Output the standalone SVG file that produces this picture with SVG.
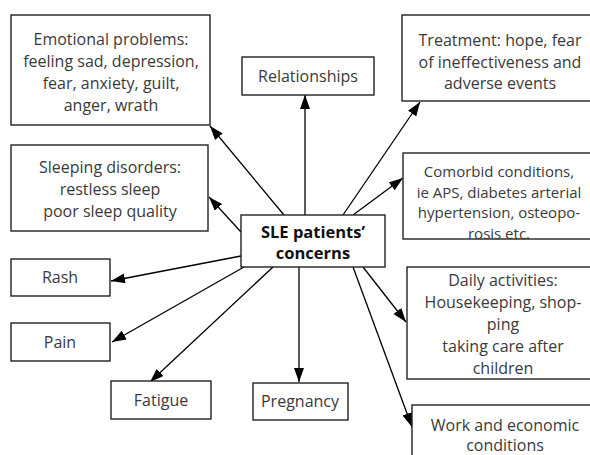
<svg xmlns="http://www.w3.org/2000/svg" width="590" height="455" viewBox="0 0 590 455">
<defs>
<style>
.box{fill:#fff;stroke:#222;stroke-width:1.4}
.t{font-family:"Open Sans","Liberation Sans",sans-serif;font-size:16px;fill:#3a3a3a;text-anchor:middle}
.s{font-size:15px}
.b{font-family:"Open Sans","Liberation Sans",sans-serif;font-size:16.5px;font-weight:bold;fill:#111;text-anchor:middle}
.c{stroke:#000;stroke-width:1.3;fill:none;marker-end:url(#ah)}
</style>
<marker id="ah" markerUnits="userSpaceOnUse" markerWidth="15" markerHeight="11" refX="14" refY="5" orient="auto">
<path d="M0,0 L14,5 L0,10 Z" fill="#000"/>
</marker>
</defs>
<rect width="590" height="455" fill="#fff"/>
<g id="connectors">
<line class="c" x1="284" y1="215" x2="210" y2="126"/>
<line class="c" x1="241" y1="232" x2="209" y2="197"/>
<line class="c" x1="241" y1="256" x2="111" y2="281"/>
<line class="c" x1="244" y1="267" x2="112" y2="342"/>
<line class="c" x1="273" y1="267" x2="150" y2="382"/>
<line class="c" x1="299" y1="267" x2="299" y2="382"/>
<line class="c" x1="353" y1="267" x2="412" y2="427"/>
<line class="c" x1="363" y1="267" x2="406" y2="322"/>
<line class="c" x1="353" y1="215" x2="403" y2="178"/>
<line class="c" x1="343" y1="215" x2="420" y2="102"/>
<line class="c" x1="305" y1="215" x2="305" y2="95"/>
</g>
<g id="sle">
<rect class="box" x="241" y="215" width="144" height="52"/>
<text class="b" x="313" y="238">SLE patients’</text>
<text class="b" x="313" y="259">concerns</text>
</g>
<g id="emotional">
<rect class="box" x="11" y="15" width="199" height="110"/>
<text class="t" x="111" y="45">Emotional problems:</text>
<text class="t" x="111" y="67">feeling sad, depression,</text>
<text class="t" x="111" y="89">fear, anxiety, guilt,</text>
<text class="t" x="111" y="111">anger, wrath</text>
</g>
<g id="relationships">
<rect class="box" x="242" y="57" width="132" height="38"/>
<text class="t" x="308" y="82">Relationships</text>
</g>
<g id="treatment">
<rect class="box" x="402" y="15" width="196" height="86"/>
<text class="t" x="500" y="46">Treatment: hope, fear</text>
<text class="t" x="500" y="68">of ineffectiveness and</text>
<text class="t" x="500" y="89">adverse events</text>
</g>
<g id="comorbid">
<rect class="box" x="403" y="153" width="195" height="86"/>
<text class="t s" x="499" y="177">Comorbid conditions,</text>
<text class="t s" x="499" y="197.5">ie APS, diabetes arterial</text>
<text class="t s" x="499" y="218">hypertension, osteopo-</text>
<text class="t s" x="499" y="238.5">rosis etc.</text>
</g>
<g id="sleeping">
<rect class="box" x="11" y="145" width="197" height="86"/>
<text class="t" x="110" y="173">Sleeping disorders:</text>
<text class="t" x="110" y="195">restless sleep</text>
<text class="t" x="110" y="217">poor sleep quality</text>
</g>
<g id="daily">
<rect class="box" x="407" y="267" width="191" height="112"/>
<text class="t" x="503" y="286">Daily activities:</text>
<text class="t" x="503" y="308">Housekeeping, shop-</text>
<text class="t" x="503" y="330">ping</text>
<text class="t" x="503" y="352">taking care after</text>
<text class="t" x="503" y="374">children</text>
</g>
<g id="rash">
<rect class="box" x="11" y="259" width="99" height="37"/>
<text class="t" x="60" y="283">Rash</text>
</g>
<g id="pain">
<rect class="box" x="11" y="323" width="99" height="38"/>
<text class="t" x="60" y="348">Pain</text>
</g>
<g id="fatigue">
<rect class="box" x="111" y="381" width="100" height="38"/>
<text class="t" x="161" y="406">Fatigue</text>
</g>
<g id="pregnancy">
<rect class="box" x="253" y="383" width="95" height="37"/>
<text class="t" x="300" y="407">Pregnancy</text>
</g>
<g id="work">
<rect class="box" x="412" y="405" width="186" height="60"/>
<text class="t" x="505" y="431">Work and economic</text>
<text class="t" x="505" y="451">conditions</text>
</g>
</svg>
